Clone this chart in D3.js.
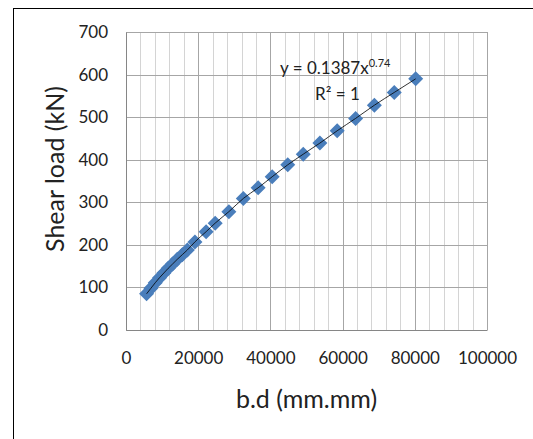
<!DOCTYPE html>
<html><head><meta charset="utf-8">
<script src="https://cdn.jsdelivr.net/npm/d3@7"></script>
<style>
html,body{margin:0;padding:0;background:#fff;}
svg{display:block;font-family:Lato,"Open Sans",sans-serif;}
</style></head>
<body>
<svg id="c" width="533" height="439"></svg>
<script>
const bd = [5700, 6900, 8100, 9300, 10500, 11700, 12900, 14200, 15600, 17000, 19100, 22200, 24700, 28500, 32500, 36600, 40500, 44800, 49100, 53700, 58500, 63600, 68800, 74300, 80250];
const shear = [85, 98, 111, 123, 134, 145, 155, 166, 177, 188, 207, 231, 251, 278, 309, 334, 360, 388, 413, 439, 468, 497, 528, 558, 590];
const xTicks = [0, 20000, 40000, 60000, 80000, 100000];
const yTicks = [0, 100, 200, 300, 400, 500, 600, 700];
const xMinorStep = 4000;
const equationMain = "y = 0.1387x";
const equationExp = "0.74";
const r2Label = "R² = 1";
const xTitle = "b.d (mm.mm)";
const yTitle = "Shear load (kN)";

const svg = d3.select("#c");
const L = 126, R = 487, T = 32, B = 330;
const x = d3.scaleLinear().domain([0, 100000]).range([L, R]);
const y = d3.scaleLinear().domain([0, 700]).range([B, T]);

// outer chart border (right and bottom edges lie outside the picture)
svg.append("rect").attr("x", 13.5).attr("y", 8.5).attr("width", 560).attr("height", 460)
  .attr("fill", "none").attr("stroke", "#000").attr("stroke-width", 1);

// minor vertical gridlines
const minor = d3.range(0, 100001, xMinorStep);
svg.append("g").selectAll("line").data(minor).join("line")
  .attr("x1", d => Math.round(x(d)) + 0.5).attr("x2", d => Math.round(x(d)) + 0.5)
  .attr("y1", T).attr("y2", B)
  .attr("stroke", "#d4d4d4").attr("stroke-width", 1);

// major vertical gridlines
svg.append("g").selectAll("line").data(xTicks).join("line")
  .attr("x1", d => Math.round(x(d)) + 0.5).attr("x2", d => Math.round(x(d)) + 0.5)
  .attr("y1", T).attr("y2", B)
  .attr("stroke", "#a6a6a6").attr("stroke-width", 1);

// horizontal gridlines
svg.append("g").selectAll("line").data(yTicks).join("line")
  .attr("x1", L).attr("x2", R)
  .attr("y1", d => Math.round(y(d)) + 0.5).attr("y2", d => Math.round(y(d)) + 0.5)
  .attr("stroke", "#a6a6a6").attr("stroke-width", 1);

// axes
const xAxis = d3.axisBottom(x).tickValues(xTicks).tickFormat(d3.format("d")).tickSize(0).tickPadding(22);
const gx = svg.append("g").attr("transform", `translate(0,${B})`).call(xAxis);
gx.select(".domain").attr("stroke", "#868686");
gx.selectAll("text").attr("font-size", 17).attr("fill", "#222").attr("font-family", "Lato");

const yAxis = d3.axisLeft(y).tickValues(yTicks).tickFormat(d3.format("d")).tickSize(0).tickPadding(18);
const gy = svg.append("g").attr("transform", `translate(${L},0)`).call(yAxis);
gy.select(".domain").attr("stroke", "#868686");
gy.selectAll("text").attr("font-size", 17).attr("fill", "#222").attr("font-family", "Lato");

// markers
svg.append("g").selectAll("path").data(bd).join("path")
  .attr("transform", (d, i) => `translate(${x(d)},${y(shear[i])})`)
  .attr("d", "M0,-7.5L7.5,0L0,7.5L-7.5,0Z")
  .attr("fill", "#4a7ebb");

// trendline
const pts = bd.map((d, i) => [d, shear[i]]);
svg.append("path").datum(pts)
  .attr("d", d3.line().x(d => x(d[0])).y(d => y(d[1])).curve(d3.curveMonotoneX))
  .attr("fill", "none").attr("stroke", "#000").attr("stroke-width", 0.8);

// equation
const eq = svg.append("text").attr("x", 280).attr("y", 74).attr("font-size", 17).attr("fill", "#222");
eq.append("tspan").text(equationMain);
eq.append("tspan").attr("dy", -7).attr("font-size", 11).text(equationExp);
svg.append("text").attr("x", 315).attr("y", 100).attr("font-size", 17).attr("fill", "#222").text(r2Label);

// titles
svg.append("text").attr("x", (L + R) / 2).attr("y", 408).attr("text-anchor", "middle")
  .attr("font-size", 25).attr("fill", "#222").text(xTitle);
svg.append("text").attr("transform", "translate(64,169) rotate(-90)").attr("text-anchor", "middle")
  .attr("font-size", 25).attr("fill", "#222").text(yTitle);
</script>
</body></html>
